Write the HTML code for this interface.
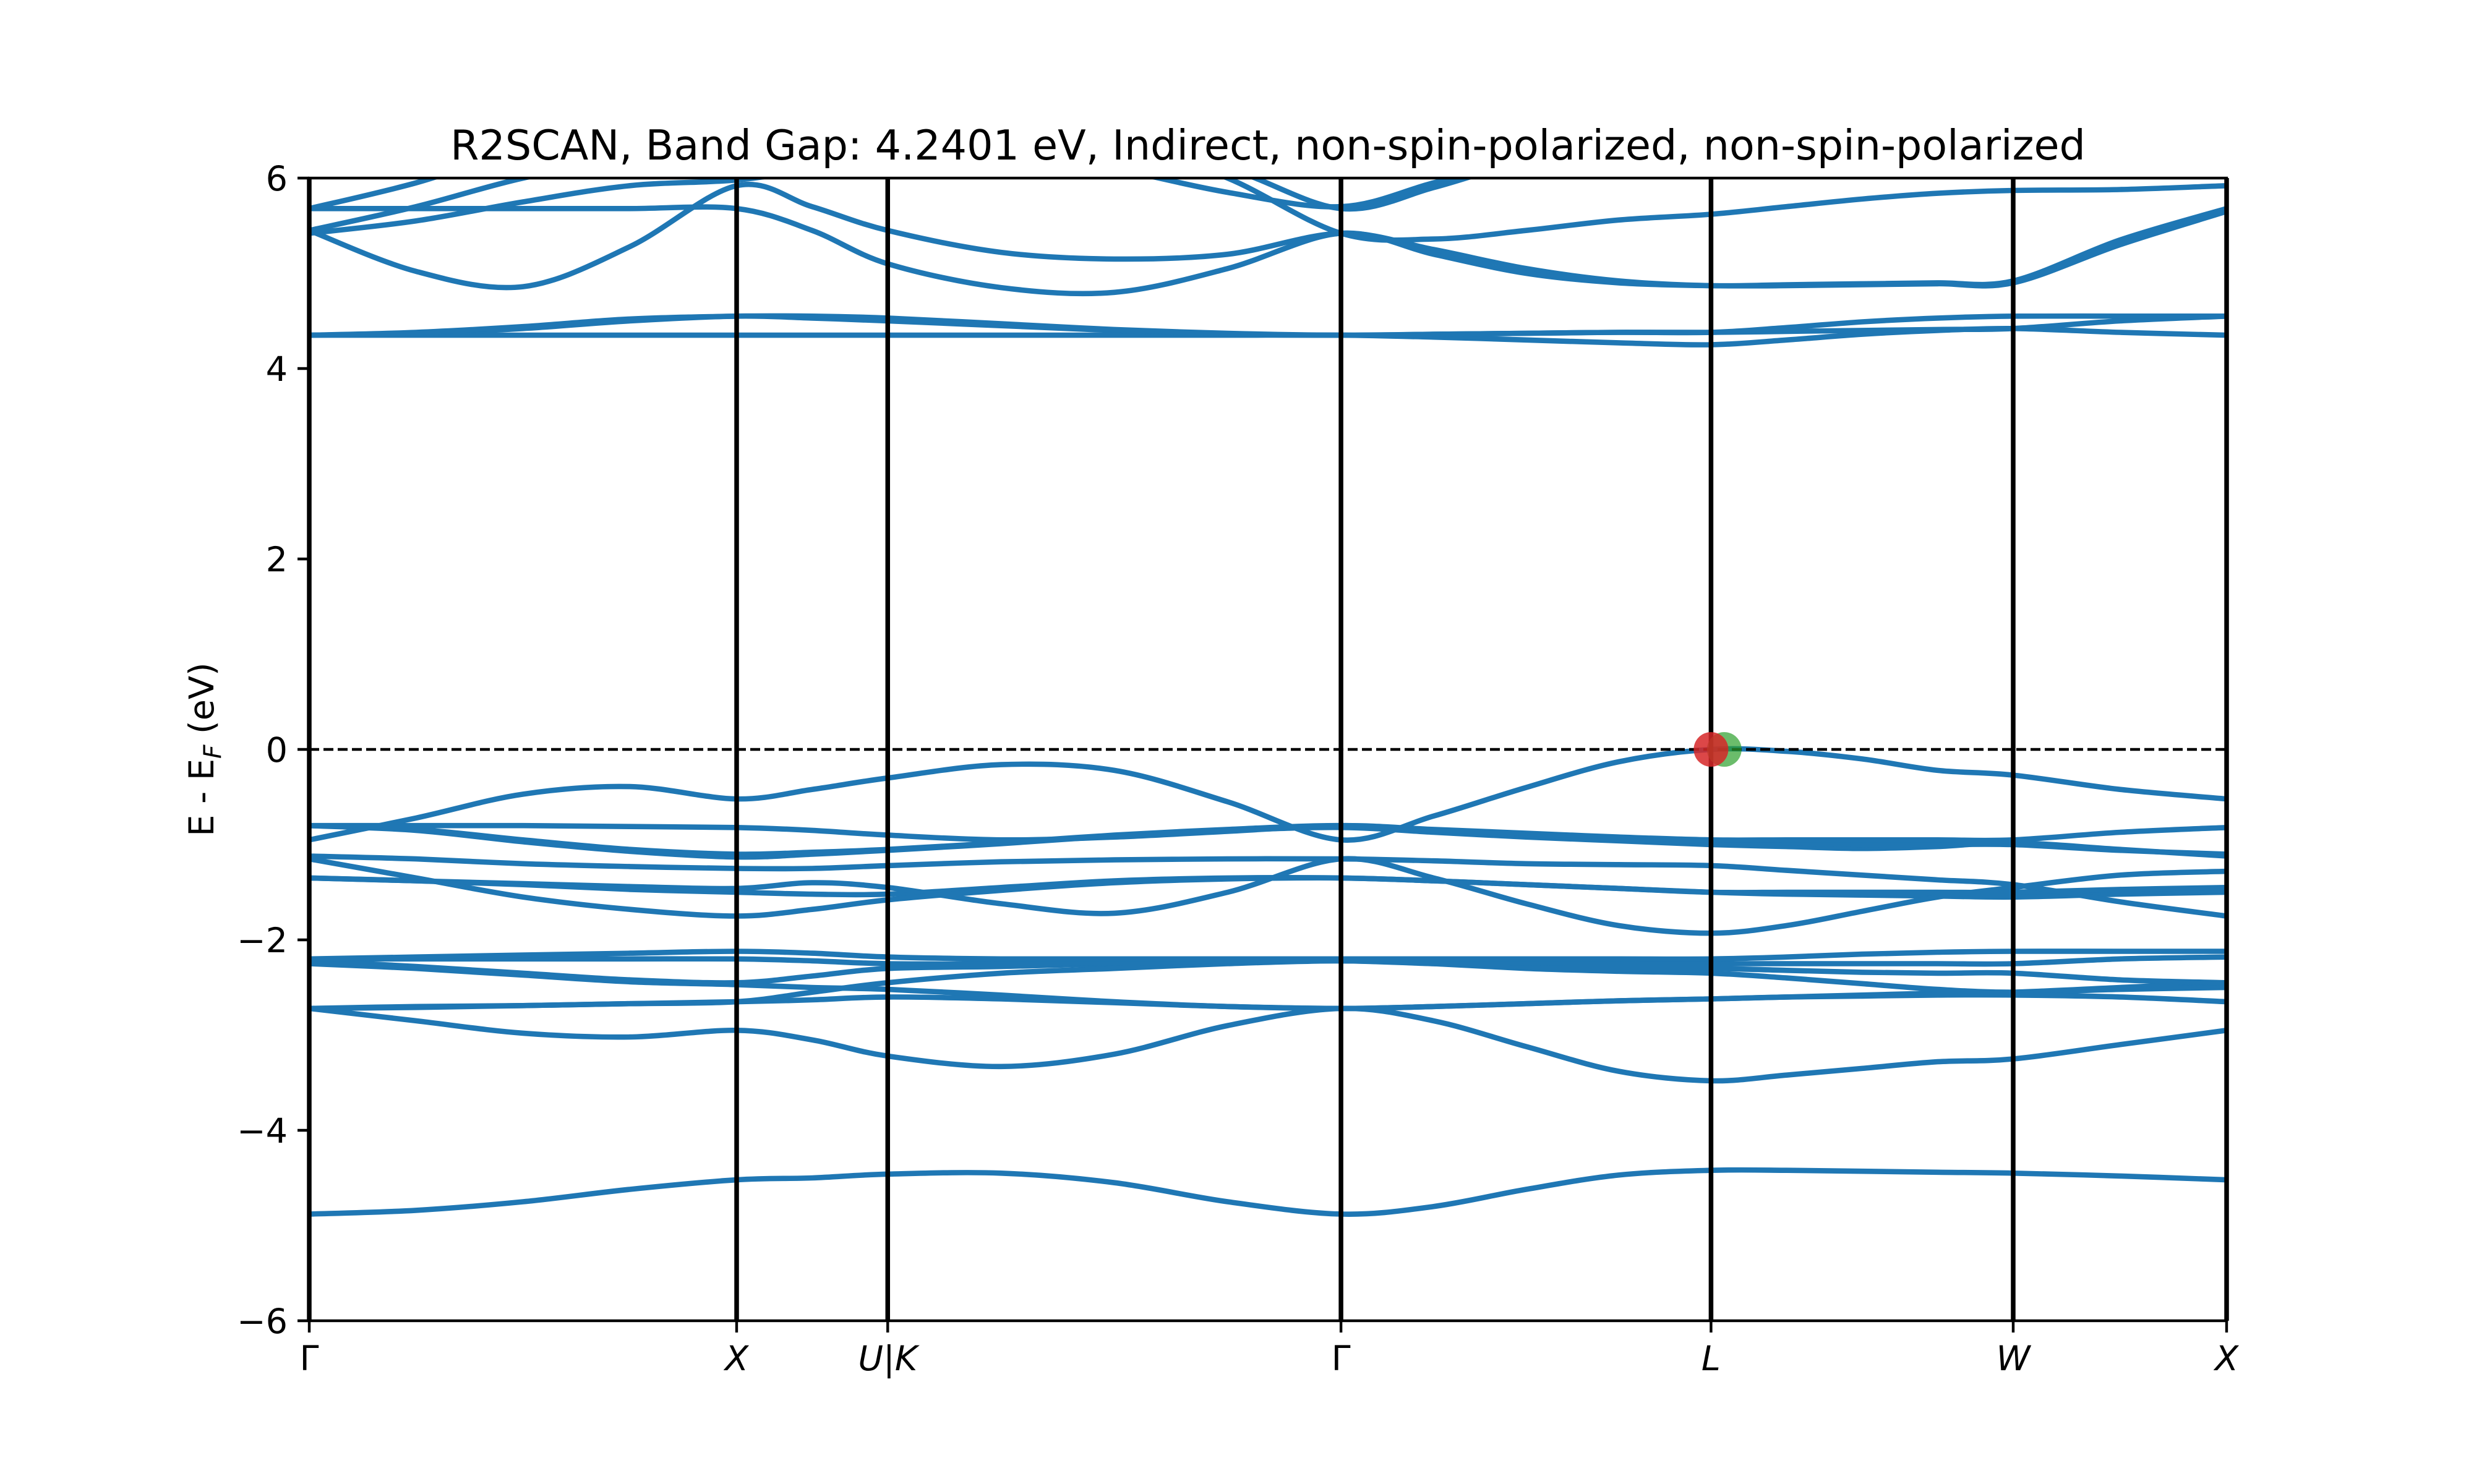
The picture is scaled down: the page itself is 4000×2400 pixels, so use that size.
<!DOCTYPE html>
<html><head><meta charset="utf-8"><style>
html,body{margin:0;padding:0;background:#fff}
svg{display:block}
text{font-family:"DejaVu Sans","Liberation Sans",sans-serif;fill:#000}
</style></head><body>
<svg id="chart" width="4000" height="2400" viewBox="0 0 4000 2400" xmlns="http://www.w3.org/2000/svg">
<defs><clipPath id="plotclip"><rect x="500" y="288" width="3100" height="1848"/></clipPath></defs>
<rect width="4000" height="2400" fill="#fff"/>
<text x="2050" y="258" font-size="66.7" text-anchor="middle">R2SCAN, Band Gap: 4.2401 eV, Indirect, non-spin-polarized, non-spin-polarized</text>
<g id="bands" clip-path="url(#plotclip)"></g>
<g id="decor"></g>
<text transform="translate(345,1212) rotate(-90)" font-size="55.6" text-anchor="middle">E - E<tspan font-size="39" font-style="italic" dy="12">F</tspan><tspan dy="-12"> (eV)</tspan></text>
</svg>
<script>
const hsLabels = ["Γ","X","U|K","Γ","L","W","X"];
const hsPos = [0,0.2229,0.3017,0.5381,0.7311,0.8887,1];
const yTicks = [-6,-4,-2,0,2,4,6];
const kNodes = [0,0.0557,0.1115,0.1672,0.2229,0.2623,0.3017,0.3608,0.4199,0.4790,0.5381,0.5864,0.6346,0.6829,0.7311,0.7705,0.8099,0.8493,0.8887,0.9444,1];
const bandV1 = [-0.95,-0.72,-0.47,-0.39,-0.52,-0.42,-0.3,-0.16,-0.22,-0.55,-0.95,-0.7,-0.4,-0.13,0.0,-0.02,-0.1,-0.22,-0.27,-0.42,-0.52];
const bandV2 = [-0.8,-0.8,-0.8,-0.81,-0.82,-0.85,-0.9,-0.95,-0.92,-0.86,-0.8,-0.84,-0.88,-0.92,-0.95,-0.95,-0.95,-0.95,-0.95,-0.87,-0.82];
const bandV3 = [-0.8,-0.84,-0.95,-1.05,-1.1,-1.08,-1.05,-0.98,-0.9,-0.84,-0.8,-0.85,-0.9,-0.94,-0.97,-0.98,-1.0,-1.0,-1.0,-1.06,-1.1];
const bandV4 = [-0.8,-0.85,-0.97,-1.07,-1.13,-1.1,-1.06,-0.99,-0.91,-0.85,-0.82,-0.87,-0.92,-0.96,-1.0,-1.02,-1.04,-1.02,-0.98,-1.05,-1.12];
const bandV5 = [-1.12,-1.15,-1.2,-1.23,-1.25,-1.25,-1.22,-1.18,-1.16,-1.15,-1.15,-1.17,-1.2,-1.21,-1.22,-1.27,-1.32,-1.37,-1.42,-1.6,-1.75];
const bandV6 = [-1.15,-1.35,-1.55,-1.68,-1.75,-1.68,-1.58,-1.48,-1.4,-1.36,-1.35,-1.38,-1.42,-1.46,-1.5,-1.5,-1.5,-1.5,-1.5,-1.47,-1.45];
const bandV7 = [-1.35,-1.38,-1.41,-1.44,-1.46,-1.4,-1.45,-1.62,-1.72,-1.5,-1.15,-1.35,-1.62,-1.85,-1.93,-1.85,-1.7,-1.55,-1.45,-1.32,-1.28];
const bandV8 = [-1.35,-1.38,-1.42,-1.47,-1.5,-1.52,-1.52,-1.45,-1.38,-1.35,-1.35,-1.38,-1.42,-1.46,-1.5,-1.52,-1.53,-1.54,-1.55,-1.52,-1.5];
const bandC1 = [-2.2,-2.18,-2.16,-2.14,-2.12,-2.14,-2.18,-2.2,-2.2,-2.2,-2.2,-2.2,-2.2,-2.2,-2.2,-2.18,-2.15,-2.13,-2.12,-2.12,-2.12];
const bandC2 = [-2.2,-2.2,-2.2,-2.2,-2.2,-2.22,-2.25,-2.25,-2.24,-2.22,-2.22,-2.23,-2.24,-2.25,-2.25,-2.25,-2.25,-2.25,-2.25,-2.2,-2.18];
const bandC3 = [-2.22,-2.28,-2.35,-2.42,-2.45,-2.38,-2.3,-2.28,-2.25,-2.23,-2.22,-2.25,-2.28,-2.3,-2.3,-2.32,-2.34,-2.35,-2.35,-2.42,-2.45];
const bandC4 = [-2.25,-2.3,-2.37,-2.44,-2.47,-2.5,-2.52,-2.58,-2.65,-2.7,-2.72,-2.7,-2.67,-2.64,-2.62,-2.6,-2.59,-2.58,-2.58,-2.6,-2.65];
const bandC5 = [-2.72,-2.7,-2.69,-2.67,-2.65,-2.55,-2.45,-2.35,-2.3,-2.25,-2.22,-2.25,-2.3,-2.33,-2.35,-2.4,-2.46,-2.52,-2.55,-2.52,-2.5];
const bandC6 = [-2.72,-2.71,-2.69,-2.67,-2.65,-2.63,-2.6,-2.62,-2.66,-2.7,-2.72,-2.7,-2.67,-2.64,-2.62,-2.6,-2.58,-2.56,-2.55,-2.5,-2.45];
const bandC7 = [-2.72,-2.85,-2.98,-3.02,-2.95,-3.05,-3.22,-3.33,-3.2,-2.9,-2.72,-2.85,-3.12,-3.38,-3.48,-3.42,-3.35,-3.28,-3.25,-3.1,-2.95];
const bandD = [-4.88,-4.84,-4.75,-4.62,-4.52,-4.5,-4.46,-4.45,-4.55,-4.75,-4.88,-4.8,-4.62,-4.47,-4.42,-4.42,-4.43,-4.44,-4.45,-4.48,-4.52];
const bandK1 = [4.35,4.35,4.35,4.35,4.35,4.35,4.35,4.35,4.35,4.35,4.35,4.33,4.3,4.27,4.25,4.3,4.36,4.4,4.42,4.38,4.35];
const bandK2 = [4.35,4.37,4.42,4.5,4.55,4.53,4.5,4.45,4.4,4.36,4.35,4.36,4.37,4.38,4.38,4.39,4.4,4.41,4.42,4.5,4.55];
const bandK3 = [4.35,4.38,4.44,4.52,4.55,4.55,4.53,4.47,4.41,4.37,4.35,4.36,4.37,4.38,4.38,4.43,4.49,4.53,4.55,4.55,4.55];
const bandK4 = [5.45,5.02,4.86,5.28,5.92,5.7,5.45,5.22,5.15,5.2,5.42,5.25,5.05,4.92,4.87,4.88,4.89,4.9,4.92,5.35,5.68];
const bandK5 = [5.68,5.68,5.68,5.68,5.68,5.45,5.1,4.85,4.8,5.05,5.42,5.2,5.0,4.9,4.87,4.87,4.88,4.89,4.9,5.3,5.65];
const bandK6 = [5.42,5.55,5.75,5.92,5.98,6.1,6.25,6.35,6.3,6.1,5.68,5.9,6.2,6.5,6.6,6.6,6.6,6.6,6.6,6.6,6.6];
const bandK7 = [5.45,5.7,6.0,6.2,6.3,6.3,6.3,6.3,6.1,5.85,5.7,5.95,6.2,6.4,6.5,6.5,6.5,6.5,6.5,6.5,6.5];
const bandK8 = [5.68,5.95,6.3,6.5,6.5,6.5,6.5,6.5,6.5,6.5,6.5,6.5,6.5,6.5,6.5,6.5,6.5,6.5,6.5,6.5,6.5];
const bandK9 = [6.5,6.5,6.5,6.5,6.5,6.5,6.5,6.5,6.4,6.0,5.42,5.36,5.45,5.56,5.62,5.7,5.78,5.84,5.87,5.88,5.92];
const vbm = [0.7311, 0.0];
const cbm = [0.738, 0.0];

const allBands = [bandD,bandC7,bandC6,bandC5,bandC4,bandC3,bandC2,bandC1,bandV8,bandV7,bandV6,bandV5,bandV4,bandV3,bandV2,bandV1,bandK1,bandK2,bandK3,bandK4,bandK5,bandK6,bandK7,bandK8,bandK9];
const X0=500,X1=3600,Y0=288,Y1=2136;
const xs = f => X0 + f*(X1-X0);
const ys = e => Y1 - (e+6)/12*(Y1-Y0);
const NS="http://www.w3.org/2000/svg";
const bandsG=document.getElementById('bands');
const decor=document.getElementById('decor');
function mk(tag,attrs,parent){const el=document.createElementNS(NS,tag);for(const k in attrs)el.setAttribute(k,attrs[k]);parent.appendChild(el);return el;}
function pathFor(vals){
  const p=kNodes.map((k,i)=>[xs(k),ys(vals[i])]);
  let d=`M${p[0][0].toFixed(1)},${p[0][1].toFixed(1)}`;
  for(let i=0;i<p.length-1;i++){
    const a=p[Math.max(0,i-1)],b=p[i],c=p[i+1],e=p[Math.min(p.length-1,i+2)];
    const c1=[b[0]+(c[0]-a[0])/6,b[1]+(c[1]-a[1])/6];
    const c2=[c[0]-(e[0]-b[0])/6,c[1]-(e[1]-b[1])/6];
    d+=`C${c1[0].toFixed(1)},${c1[1].toFixed(1)} ${c2[0].toFixed(1)},${c2[1].toFixed(1)} ${c[0].toFixed(1)},${c[1].toFixed(1)}`;
  }
  return d;
}
allBands.forEach((b,i)=>{
  const el=mk('path',{d:pathFor(b),fill:'none',stroke:'#1f77b4','stroke-width':8.6,'stroke-linejoin':'round'},bandsG);
  
  
});
hsPos.forEach((f,i)=>{
  const el=mk('line',{x1:xs(f),x2:xs(f),y1:Y0,y2:Y1,stroke:'#000','stroke-width':7.5},decor);
  
  
});
const fl=mk('line',{x1:X0,x2:X1,y1:ys(0),y2:ys(0),stroke:'#000','stroke-width':4.4,'stroke-dasharray':'16 7'},decor);


const cm=mk('circle',{cx:xs(cbm[0]),cy:ys(cbm[1]),r:28,fill:'#2ca02c','fill-opacity':0.7},decor);


const vm=mk('circle',{cx:xs(vbm[0]),cy:ys(vbm[1]),r:28,fill:'#d62728','fill-opacity':0.85},decor);


const fr=mk('rect',{x:X0,y:Y0,width:X1-X0,height:Y1-Y0,fill:'none',stroke:'#000','stroke-width':4.4},decor);


yTicks.forEach(v=>{
  const t=mk('line',{x1:X0-19,x2:X0,y1:ys(v),y2:ys(v),stroke:'#000','stroke-width':4.4},decor);
  
  
  const tx=mk('text',{x:X0-35,y:ys(v)+20,'font-size':55.6,'text-anchor':'end'},decor);
  tx.textContent=(v<0?'\u2212':'')+Math.abs(v);
  
  
});
hsPos.forEach((f,i)=>{
  const t=mk('line',{x1:xs(f),x2:xs(f),y1:Y1,y2:Y1+19,stroke:'#000','stroke-width':4.4},decor);
  
  
  const lab=hsLabels[i];
  const tx=mk('text',{x:xs(f),y:Y1+80,'font-size':55.6,'text-anchor':'middle'},decor);
  if(lab!=='Γ') tx.setAttribute('font-style','italic');
  tx.textContent=lab;
  
  
});
</script>
</body></html>
